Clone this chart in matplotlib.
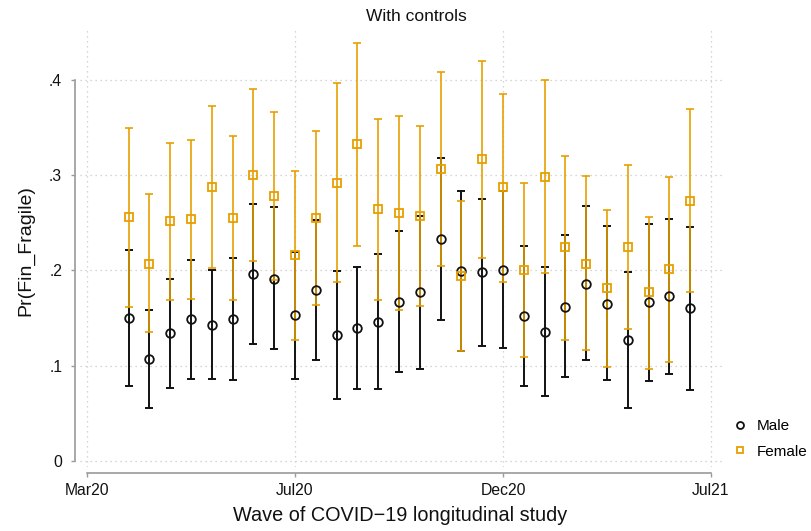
import matplotlib
matplotlib.use("Agg")
import matplotlib.pyplot as plt
from matplotlib.lines import Line2D

plt.rcParams['font.family'] = ['Liberation Sans', 'DejaVu Sans']

# ---- data ----
waves = list(range(2, 30))
tick_pos = [0, 10, 20, 30]
tick_labels = ["Mar20", "Jul20", "Dec20", "Jul21"]
ytick_pos = [0, 0.1, 0.2, 0.3, 0.4]
ytick_labels = ["0", ".1", ".2", ".3", ".4"]

male_est = [.150, .107, .134, .149, .143, .149, .196, .191, .153, .179, .132, .139, .146, .167,
            .177, .233, .199, .198, .200, .152, .135, .162, .186, .165, .127, .167, .173, .160]
male_lo = [.079, .056, .077, .086, .086, .085, .123, .117, .086, .106, .065, .075, .075, .093,
           .097, .148, .115, .121, .118, .079, .068, .088, .106, .085, .056, .084, .091, .074]
male_hi = [.221, .158, .191, .211, .200, .213, .269, .266, .219, .253, .199, .203, .217, .241,
           .257, .318, .283, .275, .283, .225, .203, .237, .267, .246, .198, .249, .254, .245]

female_est = [.256, .207, .252, .254, .287, .255, .300, .278, .216, .255, .292, .332, .264, .260,
              .257, .306, .194, .317, .287, .200, .298, .224, .207, .181, .224, .177, .201, .273]
female_lo = [.162, .135, .169, .170, .202, .169, .210, .190, .127, .164, .188, .225, .169, .158,
             .163, .204, .115, .213, .188, .109, .197, .127, .116, .099, .138, .097, .104, .177]
female_hi = [.349, .280, .334, .337, .372, .341, .390, .366, .304, .346, .396, .438, .359, .362,
             .351, .408, .273, .420, .385, .292, .400, .320, .299, .263, .310, .256, .298, .369]

male_color = "#111111"
female_color = "#E69F00"
axis_gray = "#9a9a9a"

fig = plt.figure(figsize=(8.12, 5.31), dpi=100)
W, H = 812, 531
ax = fig.add_axes([80 / W, 1 - 467 / H, (722 - 80) / W, (467 - 30) / H])

def err(est, lo, hi):
    return [[e - l for e, l in zip(est, lo)], [h - e for e, h in zip(est, hi)]]

ax.errorbar(waves, male_est, yerr=err(male_est, male_lo, male_hi), fmt='none',
            ecolor=male_color, elinewidth=1.4, capsize=3.2, capthick=1.4, zorder=2)
ax.errorbar(waves, female_est, yerr=err(female_est, female_lo, female_hi), fmt='none',
            ecolor=female_color, elinewidth=1.4, capsize=3.2, capthick=1.4, alpha=0.85, zorder=3)
ax.plot(waves, male_est, linestyle='none', marker='o', markersize=6.2, markerfacecolor='none',
        markeredgecolor=male_color, markeredgewidth=1.3, zorder=4)
ax.plot(waves, female_est, linestyle='none', marker='s', markersize=5.8, markerfacecolor='none',
        markeredgecolor=female_color, markeredgewidth=1.3, zorder=4)

ax.set_xlim(-0.34, 30.53)
ax.set_ylim(-0.0063, 0.452)
ax.set_xticks(tick_pos)
ax.set_xticklabels(tick_labels)
ax.set_yticks(ytick_pos)
ax.set_yticklabels(ytick_labels)

for s in ['top', 'right']:
    ax.spines[s].set_visible(False)
ax.spines['left'].set_position(('outward', 3.6))
ax.spines['bottom'].set_position(('outward', 4.3))
ax.spines['left'].set_bounds(0, 0.4)
ax.spines['bottom'].set_bounds(0, 30)
for s in ['left', 'bottom']:
    ax.spines[s].set_color(axis_gray)
    ax.spines[s].set_linewidth(1.2)

ax.tick_params(axis='both', colors=axis_gray, labelcolor='#111111', labelsize=11.3,
               length=3.2, width=1.0)
ax.tick_params(axis='x', pad=4)
ax.tick_params(axis='y', pad=6)

ax.grid(True, color='#c8c8c8', linestyle=(0, (1, 3)), linewidth=0.9)
ax.set_axisbelow(True)

ax.set_ylabel("Pr(Fin_Fragile)", fontsize=14, color='#111111')
ax.yaxis.set_label_coords((34 - 80) / 642, (467 - 251) / 437)
ax.set_xlabel("Wave of COVID\u221219 longitudinal study", fontsize=14.3, color='#111111')
ax.xaxis.set_label_coords((400 - 80) / 642, -(506 - 467) / 437)

fig.text(416 / W, 1 - 16.5 / H, "With controls", ha='center', va='center',
         fontsize=12.5, color='#111111')

handles = [
    Line2D([], [], linestyle='none', marker='o', markersize=5, markerfacecolor='none',
           markeredgecolor=male_color, markeredgewidth=1.3),
    Line2D([], [], linestyle='none', marker='s', markersize=5, markerfacecolor='none',
           markeredgecolor=female_color, markeredgewidth=1.3),
]
fig.legend(handles, ["Male", "Female"], loc='center left',
           bbox_to_anchor=(732 / W, 1 - 439 / H), frameon=False, fontsize=11,
           handlelength=1.0, handletextpad=0.6, labelspacing=0.75, borderpad=0,
           borderaxespad=0)

fig.savefig("out.png", dpi=100)
